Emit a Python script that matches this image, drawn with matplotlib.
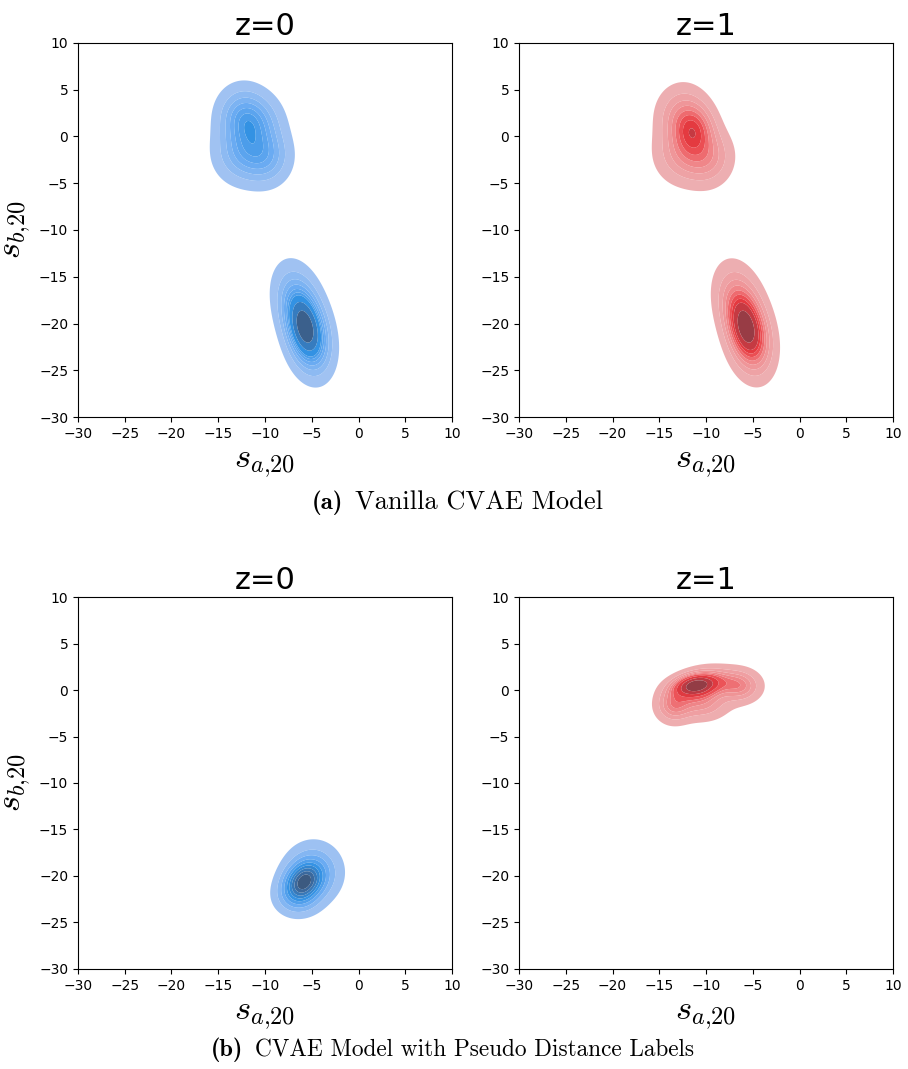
import numpy as np
import matplotlib
matplotlib.use("Agg")
import matplotlib.pyplot as plt
from matplotlib.colors import LinearSegmentedColormap

plt.rcParams['mathtext.fontset'] = 'cm'

# gaussian components (x centre, y centre, sd x, sd y, corr, weight)
tl_cx = [-12.5, -11.0, -12.4, -9.9, -6.3, -5.2, -5.8]
tl_cy = [2.2, 1.2, -1.8, -2.2, -18.3, -21.8, -20.3]
tl_sx = [1.6, 1.7, 1.8, 1.6, 1.5, 1.4, 1.05]
tl_sy = [1.9, 1.9, 1.9, 1.8, 2.5, 2.3, 1.9]
tl_rho = [0.0, 0.0, 0.0, 0.0, -0.3, -0.2, -0.3]
tl_w = [0.11, 0.12, 0.12, 0.1, 0.2, 0.2, 0.15]

tr_cx = [-12.5, -11.3, -12.4, -9.9, -6.3, -5.2, -5.8]
tr_cy = [2.2, 0.6, -1.8, -2.2, -18.3, -21.8, -20.3]
tr_sx = [1.6, 1.3, 1.8, 1.6, 1.5, 1.4, 1.05]
tr_sy = [1.9, 1.6, 1.9, 1.8, 2.5, 2.3, 1.9]
tr_rho = [0.0, 0.0, 0.0, 0.0, -0.3, -0.2, -0.3]
tr_w = [0.11, 0.13, 0.11, 0.1, 0.2, 0.2, 0.15]

bl_cx = [-5.9, -4.8, -6.5]
bl_cy = [-20.6, -19.6, -22.3]
bl_sx = [1.3, 1.7, 1.4]
bl_sy = [1.3, 1.8, 1.2]
bl_rho = [0.2, 0.0, 0.0]
bl_w = [0.5, 0.35, 0.15]

br_cx = [-11.2, -13.5, -6.3, -10.5, -9.0]
br_cy = [0.5, -1.6, 0.4, -1.3, 1.0]
br_sx = [1.5, 1.2, 1.4, 1.8, 1.8]
br_sy = [0.8, 1.2, 1.1, 1.2, 1.0]
br_rho = [0.2, 0.0, 0.0, 0.0, 0.0]
br_w = [0.35, 0.15, 0.15, 0.2, 0.15]

ticks = [-30, -25, -20, -15, -10, -5, 0, 5, 10]
titles = ["z=0", "z=1"]
cap_tags = ["(a)", "(b)"]
cap_texts = ["Vanilla CVAE Model", "CVAE Model with Pseudo Distance Labels"]

blues = LinearSegmentedColormap.from_list("b", ["#a9c6f2", "#6aabf2", "#2f90e2", "#3a72ad", "#3c5272"])
reds = LinearSegmentedColormap.from_list("r", ["#edb4b6", "#f08d90", "#ea3a40", "#b53a43", "#7f3d47"])


def density(xx, yy, cx, cy, sx, sy, rho, w):
    z = np.zeros_like(xx)
    for i in range(len(cx)):
        dx = (xx - cx[i]) / sx[i]
        dy = (yy - cy[i]) / sy[i]
        q = (dx**2 - 2*rho[i]*dx*dy + dy**2) / (1 - rho[i]**2)
        z += w[i] * np.exp(-q/2) / (2*np.pi*sx[i]*sy[i]*np.sqrt(1 - rho[i]**2))
    return z


def kde_panel(ax, comps, cmap, title):
    gx = np.linspace(-30, 10, 400)
    gy = np.linspace(-30, 10, 400)
    xx, yy = np.meshgrid(gx, gy)
    z = density(xx, yy, *comps)
    # iso-proportion levels like seaborn (thresh=0.05, 10 levels)
    flat = np.sort(z.ravel())
    cum = np.cumsum(flat)
    cum = cum / cum[-1]
    props = np.linspace(0.05, 1, 10)
    levels = np.interp(props, cum, flat)
    levels[-1] = z.max() * 1.0001
    ax.contourf(xx, yy, z, levels=levels, cmap=cmap, antialiased=True)
    ax.set_xlim(-30, 10)
    ax.set_ylim(-30, 10)
    ax.set_xticks(ticks)
    ax.set_yticks(ticks)
    ax.set_title(title, fontsize=22)
    ax.set_xlabel(r"$s_{a{,}20}$", fontsize=25)


fig = plt.figure(figsize=(9.08, 10.69), dpi=100)
w = 0.4119
ax1 = fig.add_axes([0.0859, 0.6099, w, 0.3499])
ax2 = fig.add_axes([0.5716, 0.6099, w, 0.3499])
ax3 = fig.add_axes([0.0859, 0.0936, w, 0.3479])
ax4 = fig.add_axes([0.5716, 0.0936, w, 0.3479])

kde_panel(ax1, (tl_cx, tl_cy, tl_sx, tl_sy, tl_rho, tl_w), blues, titles[0])
kde_panel(ax2, (tr_cx, tr_cy, tr_sx, tr_sy, tr_rho, tr_w), reds, titles[1])
kde_panel(ax3, (bl_cx, bl_cy, bl_sx, bl_sy, bl_rho, bl_w), blues, titles[0])
kde_panel(ax4, (br_cx, br_cy, br_sx, br_sy, br_rho, br_w), reds, titles[1])
ax1.set_ylabel(r"$s_{b{,}20}$", fontsize=25)
ax3.set_ylabel(r"$s_{b{,}20}$", fontsize=25)

# captions: bold tag + roman text
fig.text(343/908, 1 - 503/1069, cap_tags[0], ha="right", va="center", fontsize=18, fontfamily="cmb10")
fig.text(355/908, 1 - 503/1069, cap_texts[0], ha="left", va="center", fontsize=19, fontfamily="cmr10")
fig.text(243/908, 1 - 1050/1069, cap_tags[1], ha="right", va="center", fontsize=17.5, fontfamily="cmb10")
fig.text(255/908, 1 - 1050/1069, cap_texts[1], ha="left", va="center", fontsize=16.8, fontfamily="cmr10")

fig.savefig("out.png", dpi=100)
